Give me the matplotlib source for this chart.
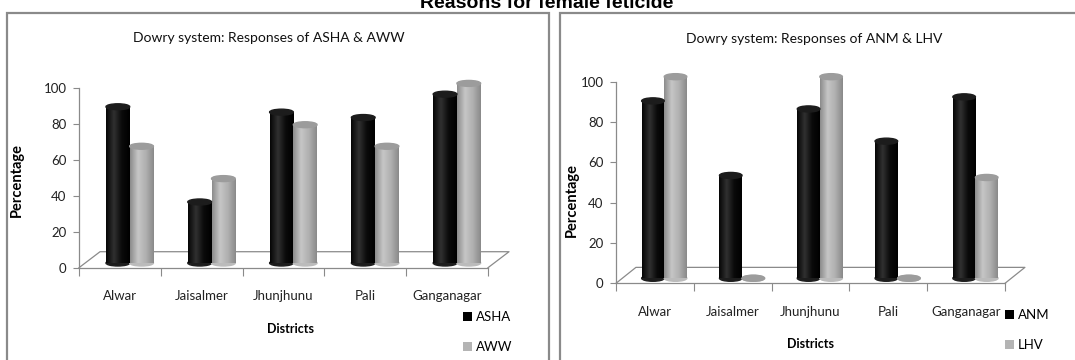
import numpy as np
import matplotlib
matplotlib.use('Agg')
import matplotlib.pyplot as plt
from matplotlib.patches import Ellipse, Rectangle
from matplotlib.colors import LinearSegmentedColormap

# data
districts = ['Alwar', 'Jaisalmer', 'Jhunjhunu', 'Pali', 'Ganganagar']
asha = [87, 34, 84, 81, 94]
aww = [65, 47, 77, 65, 100]
anm = [88, 51, 84, 68, 90]
lhv = [100, 0, 100, 0, 50]
y_ticks = [0, 20, 40, 60, 80, 100]

plt.rcParams['font.family'] = ['Lato', 'DejaVu Sans']

black_cmap = LinearSegmentedColormap.from_list('blk', ['#060606', '#303030', '#0a0a0a', '#000000'])
grey_cmap = LinearSegmentedColormap.from_list('gry', ['#8c8c8c', '#c6c6c6', '#b0b0b0', '#8a8a8a'])
AXIS_GREY = '#8a8a8a'


def draw_cylinders(ax, xs, vals, width, lift, cap, cmap, base, top_col, label):
    bars = ax.bar(xs, vals, width, bottom=lift, color=base, linewidth=0,
                  label=label, zorder=3)
    grad = np.linspace(0, 1, 64).reshape(1, -1)
    for b in bars:
        x0, y0 = b.get_x(), b.get_y()
        w, h = b.get_width(), b.get_height()
        xc = x0 + w / 2
        ax.add_patch(Ellipse((xc, y0), w, cap, color=cmap(0.5), zorder=2.9))
        if h > 0:
            im = ax.imshow(grad, cmap=cmap, aspect='auto',
                           extent=(x0, x0 + w, y0, y0 + h), zorder=3.1)
            im.set_clip_path(b)
        ax.add_patch(Ellipse((xc, y0 + h), w, cap, color=top_col, zorder=3.2))
    return bars


def setup_panel(ax, s1, s2, names, title, floor_dx, floor_dy, lift, cap,
                title_xy, ylab_xy, xlab_xy, leg_anchor):
    x = np.arange(len(districts))
    w = 0.29
    off = 0.12
    b1 = draw_cylinders(ax, x + off - w / 2, s1, w, lift, cap, black_cmap,
                        '#000000', '#1c1c1c', names[0])
    b2 = draw_cylinders(ax, x + off + w / 2, s2, w, lift, cap, grey_cmap,
                        '#b4b4b4', '#9c9c9c', names[1])

    # 3d floor outline
    n = len(districts)
    fx = [-0.5, -0.5 + floor_dx, n - 0.5 + floor_dx, n - 0.5]
    fy = [0, floor_dy, floor_dy, 0]
    ax.plot(fx, fy, color=AXIS_GREY, lw=0.9, clip_on=False, zorder=1)

    ax.set_xlim(-0.5, n - 0.5)
    ax.set_ylim(0, 108)
    ax.set_yticks(y_ticks)
    ax.tick_params(axis='y', labelsize=9.5, length=4, color=AXIS_GREY,
                   labelcolor='#222222', pad=5)
    ax.set_xticks(np.arange(-0.5, n, 1.0))
    ax.set_xticklabels([])
    ax.tick_params(axis='x', which='major', length=6, color=AXIS_GREY)
    ax.set_xticks(x, minor=True)
    ax.set_xticklabels(districts, minor=True)
    ax.tick_params(axis='x', which='minor', length=0, labelsize=9.5,
                   pad=16, labelcolor='#222222')

    for s in ['top', 'right']:
        ax.spines[s].set_visible(False)
    ax.spines['left'].set_bounds(0, 100)
    for s in ['left', 'bottom']:
        ax.spines[s].set_color(AXIS_GREY)
        ax.spines[s].set_linewidth(0.9)

    ax.set_title(title, fontsize=10, color='#111111', x=title_xy[0], y=title_xy[1])
    ax.set_ylabel('Percentage', fontsize=10.5, fontweight='bold')
    ax.yaxis.set_label_coords(*ylab_xy)
    ax.set_xlabel('Districts', fontsize=9, fontweight='bold')
    ax.xaxis.set_label_coords(*xlab_xy)

    fig.legend(handles=[b1, b2], labels=names, loc='upper left',
               bbox_to_anchor=leg_anchor, frameon=False, fontsize=9.5,
               handlelength=0.7, handleheight=0.7, handletextpad=0.3,
               labelspacing=1.35, borderpad=0, borderaxespad=0)


fig = plt.figure(figsize=(10.75, 3.6), dpi=100)

ax1 = fig.add_axes([79 / 1075, 92.3 / 360, 409 / 1075, 194 / 360])
ax2 = fig.add_axes([616 / 1075, 76.7 / 360, 389 / 1075, 217.7 / 360])

setup_panel(ax1, asha, aww, ['ASHA', 'AWW'],
            'Dowry system: Responses of ASHA & AWW',
            0.257, 8.9, 2.6, 3.3,
            (0.465, 1.12), (-0.135, 0.452), (0.516, -0.283),
            (463 / 1075, 1 - 311 / 360))
setup_panel(ax2, anm, lhv, ['ANM', 'LHV'],
            'Dowry system: Responses of ANM & LHV',
            0.256, 7.9, 2.5, 3.0,
            (0.51, 1.066), (-0.095, 0.383), (0.5, -0.252),
            (1005 / 1075, 1 - 309 / 360))

# panel frames
for x0, w in [(7, 542), (560, 530)]:
    fig.patches.append(Rectangle((x0 / 1075, -0.1), w / 1075, 1.1 - 13 / 360,
                                 transform=fig.transFigure, fill=False,
                                 edgecolor=AXIS_GREY, lw=1.6))

fig.text(547 / 1075, 1 - 8 / 360, 'Reasons for female feticide', ha='center',
         va='baseline', fontsize=14, fontweight='bold', family='Liberation Sans')

fig.savefig('out.png', dpi=100)
